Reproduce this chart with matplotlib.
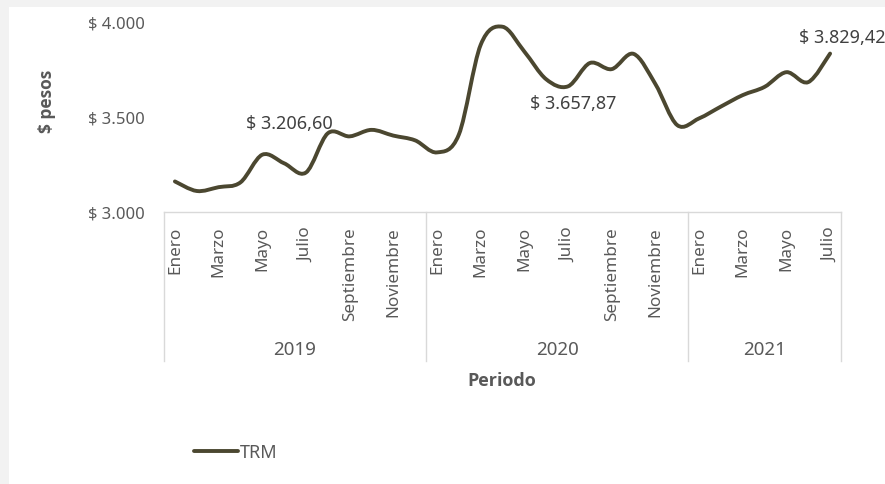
import numpy as np
import matplotlib.pyplot as plt
from matplotlib.path import Path
from matplotlib.patches import PathPatch, Rectangle
from matplotlib.lines import Line2D

plt.rcParams['font.family'] = ['Noto Sans', 'DejaVu Sans']

# TRM monthly average, Jan 2019 - Jul 2021
years = ['2019', '2020', '2021']
months_per_year = [12, 12, 7]
month_names = ['Enero', 'Febrero', 'Marzo', 'Abril', 'Mayo', 'Junio', 'Julio',
               'Agosto', 'Septiembre', 'Octubre', 'Noviembre', 'Diciembre']
trm = [3160, 3110, 3130, 3155, 3300, 3255, 3206.60, 3412, 3396, 3430, 3400, 3375,
       3312, 3405, 3875, 3970, 3840, 3695, 3657.87, 3780, 3748, 3828, 3670, 3455,
       3490, 3552, 3612, 3655, 3732, 3680, 3829.42]
labelled = [6, 18, 30]
label_offsets = [(-12, 36), (4, -12), (9, 12)]

col = '#4b4730'
grey = '#595959'
sep = '#d9d9d9'

fig = plt.figure(figsize=(8.85, 4.85), dpi=100)
fig.patch.set_facecolor('#f2f2f2')
fig.add_artist(Rectangle((9 / 885, 0), 1, 1 - 8 / 485, transform=fig.transFigure,
                         facecolor='white', edgecolor='none', zorder=0))

ax = fig.add_axes([164 / 885, 1 - 213 / 485, (841 - 164) / 885, (213 - 22) / 485])
ax.patch.set_alpha(0)

x = np.arange(len(trm), dtype=float)
y = np.array(trm, dtype=float)
pts = np.column_stack([x, y])
n = len(pts)

# Excel-style smoothed line (Catmull-Rom as cubic Bezier)
verts = [pts[0]]
codes = [Path.MOVETO]
for i in range(n - 1):
    p0 = pts[max(i - 1, 0)]
    p3 = pts[min(i + 2, n - 1)]
    c1 = pts[i] + (pts[i + 1] - p0) / 6
    c2 = pts[i + 1] - (p3 - pts[i]) / 6
    verts += [c1, c2, pts[i + 1]]
    codes += [Path.CURVE4] * 3
ax.add_patch(PathPatch(Path(verts, codes), facecolor='none', edgecolor=col,
                       lw=2.8, capstyle='round', joinstyle='round', clip_on=False))

ax.set_xlim(-0.5, n - 0.5)
ax.set_ylim(3000, 4000)
ax.set_yticks([3000, 3500, 4000])
ax.set_yticklabels(['$ 3.000', '$ 3.500', '$ 4.000'])

# month ticks every two months
month_ticks, month_labels = [], []
k = 0
for cnt in months_per_year:
    for m in range(cnt):
        if m % 2 == 0:
            month_ticks.append(k)
            month_labels.append(month_names[m])
        k += 1
ax.set_xticks(month_ticks)
ax.set_xticklabels(month_labels, rotation=90, va='top', ha='center')

ax.tick_params(axis='x', length=0, pad=10, labelsize=12.3, labelcolor=grey)
ax.tick_params(axis='y', length=0, pad=14, labelsize=12, labelcolor=grey)
for s in ['top', 'right', 'left']:
    ax.spines[s].set_visible(False)
ax.spines['bottom'].set_color(sep)
ax.spines['bottom'].set_linewidth(1)

# year group separators and labels
tr = ax.get_xaxis_transform()
edges = np.concatenate([[0], np.cumsum(months_per_year)]) - 0.5
for e in edges:
    ax.plot([e, e], [0, -(362 - 213) / 191], color=sep, lw=1, transform=tr, clip_on=False)
for yr, a, b in zip(years, edges[:-1], edges[1:]):
    ax.text((a + b) / 2, -(350 - 213) / 191, yr, transform=tr, ha='center', va='center',
            fontsize=13.5, color=grey)

# data labels
for idx, off in zip(labelled, label_offsets):
    txt = '$ ' + f'{trm[idx]:,.2f}'.replace(',', 'X').replace('.', ',').replace('X', '.')
    ax.annotate(txt, (x[idx], y[idx]), xytext=off, textcoords='offset points',
                ha='center', va='center', fontsize=13, color='#404040')

bold = ['Open Sans', 'DejaVu Sans']
fig.text(47 / 885, 1 - 101 / 485, '$ pesos', rotation=90, ha='center', va='center',
         fontsize=12.5, fontweight='bold', color=grey, family=bold)
fig.text(502 / 885, 1 - 381 / 485, 'Periodo', ha='center', va='center',
         fontsize=13, fontweight='bold', color=grey, family=bold)

handle = Line2D([], [], color=col, lw=2.8, solid_capstyle='round')
fig.legend([handle], ['TRM'], loc='center left', bbox_to_anchor=(178 / 885, 1 - 453 / 485),
           frameon=False, handlelength=2.4, handletextpad=0.1, fontsize=13,
           labelcolor=grey)

fig.savefig('out.png', dpi=100)
